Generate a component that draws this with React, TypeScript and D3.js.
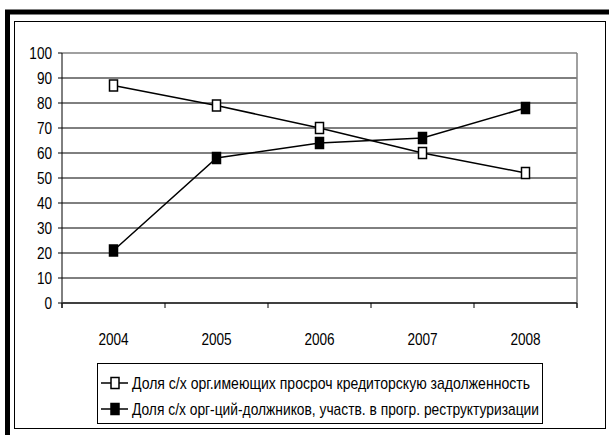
import React from "react";
import * as d3 from "d3";

const years = ["2004", "2005", "2006", "2007", "2008"];
const seriesA = [87, 79, 70, 60, 52];
const seriesB = [21, 58, 64, 66, 78];
const yTicks = [0, 10, 20, 30, 40, 50, 60, 70, 80, 90, 100];
const legendLabels = [
  "Доля с/х орг.имеющих просроч кредиторскую задолженность",
  "Доля с/х орг-ций-должников, участв. в прогр. реструктуризации",
];

const FONT = "'Liberation Sans', Arial, sans-serif";
const SX = 0.8;

function NText(props: { x: number; y: number; anchor?: string; size: number; children: React.ReactNode }) {
  return (
    <text
      transform={`translate(${props.x},${props.y}) scale(${SX},1)`}
      textAnchor={props.anchor || "start"}
      fontSize={props.size}
      fill="#000"
    >
      {props.children}
    </text>
  );
}

export default function App() {
  const W = 609, H = 435;
  const left = 62, right = 577, top = 53, bottom = 303;
  const x = d3.scaleBand<string>().domain(years).range([left, right]);
  const y = d3.scaleLinear().domain([0, 100]).range([bottom, top]);
  const cx = (yr: string) => (x(yr) as number) + x.bandwidth() / 2;
  const line = d3
    .line<number>()
    .x((_, i) => cx(years[i]))
    .y((d) => y(d));
  const mw = 8, mh = 11;
  const series = [
    { values: seriesA, fill: "#ffffff" },
    { values: seriesB, fill: "#000000" },
  ];
  const boundaries = years.map((yr) => x(yr) as number).concat([right]);
  const legendRows = [383, 409];
  const legendEnds = [530, 539];

  return (
    <svg
      width={W}
      height={H}
      style={{ position: "fixed", left: 0, top: 0, background: "#fff" }}
      fontFamily={FONT}
    >
      <rect x={0} y={0} width={W} height={H} fill="#fff" />
      {/* outer thick frame */}
      <rect x={7.5} y={12} width={W + 20} height={H + 20} fill="none" stroke="#000" strokeWidth={5} />
      {/* inner thin frame */}
      <rect x={14.5} y={21.5} width={591} height={407} fill="none" stroke="#000" strokeWidth={1} />

      {/* gridlines */}
      {yTicks.filter((t) => t > 0 && t < 100).map((t) => (
        <line key={t} x1={left} x2={right} y1={y(t)} y2={y(t)} stroke="#000" strokeWidth={1} />
      ))}
      {/* plot border top & right (gray) */}
      <line x1={left} x2={right} y1={y(100)} y2={y(100)} stroke="#808080" strokeWidth={1.5} />
      <line x1={right} x2={right} y1={y(100)} y2={bottom + 5} stroke="#808080" strokeWidth={1.5} />
      {/* y axis */}
      <line x1={left} x2={left} y1={y(100)} y2={bottom + 5} stroke="#000" strokeWidth={1} />
      {yTicks.map((t) => (
        <g key={t}>
          <line x1={left - 4} x2={left} y1={y(t)} y2={y(t)} stroke="#000" strokeWidth={1} />
          <NText x={52} y={y(t) + 6} anchor="end" size={17}>
            {t}
          </NText>
        </g>
      ))}
      {/* x axis */}
      <line x1={left} x2={right} y1={bottom} y2={bottom} stroke="#404040" strokeWidth={2} />
      {boundaries.map((b, i) => (
        <line key={i} x1={b} x2={b} y1={bottom} y2={bottom + 5} stroke="#000" strokeWidth={1} />
      ))}
      {years.map((yr) => (
        <NText key={yr} x={cx(yr)} y={345} anchor="middle" size={17}>
          {yr}
        </NText>
      ))}

      {/* series */}
      {series.map((s, si) => (
        <g key={si}>
          <path d={line(s.values) || ""} fill="none" stroke="#000" strokeWidth={1.5} />
          {s.values.map((v, i) => (
            <rect
              key={i}
              x={cx(years[i]) - mw / 2}
              y={y(v) - mh / 2}
              width={mw}
              height={mh}
              fill={s.fill}
              stroke="#000"
              strokeWidth={1.5}
            />
          ))}
        </g>
      ))}

      {/* legend */}
      <rect x={97.5} y={363.5} width={445} height={60} fill="#fff" stroke="#000" strokeWidth={1} />
      {series.map((s, i) => (
        <g key={i}>
          <line x1={101} x2={128} y1={legendRows[i]} y2={legendRows[i]} stroke="#000" strokeWidth={1.5} />
          <rect
            x={115 - mw / 2}
            y={legendRows[i] - mh / 2}
            width={mw}
            height={mh}
            fill={s.fill}
            stroke="#000"
            strokeWidth={1.5}
          />
          <text
            x={132}
            y={legendRows[i] + 6}
            fontSize={17}
            fill="#000"
            textLength={legendEnds[i] - 132}
            lengthAdjust="spacingAndGlyphs"
          >
            {legendLabels[i]}
          </text>
        </g>
      ))}
    </svg>
  );
}
